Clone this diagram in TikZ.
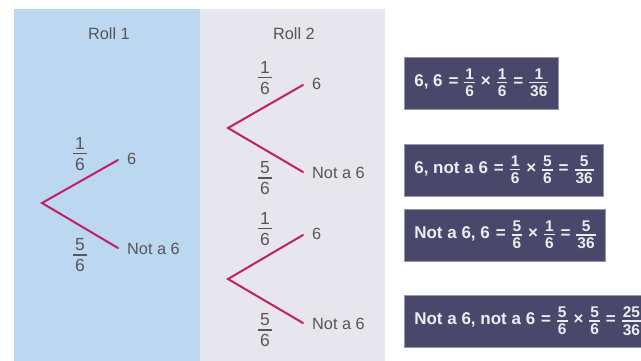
\documentclass[tikz,border=0pt]{standalone}
\usepackage{fontspec}
\setmainfont{Liberation Sans}
\definecolor{rollblue}{RGB}{188,216,240}
\definecolor{rollgrey}{RGB}{231,230,236}
\definecolor{branchc}{RGB}{192,32,102}
\definecolor{treetext}{RGB}{85,85,90}
\definecolor{boxfill}{RGB}{74,72,106}
\definecolor{boxline}{RGB}{150,150,170}
\definecolor{boxtext}{RGB}{236,236,242}
\newdimen\fgap \newdimen\frul \newdimen\fside
% stacked fraction with tight gaps, bar on the math axis
\newcommand{\fr}[2]{$\vcenter{\offinterlineskip\halign{\hfil\kern\fside##\kern\fside\hfil\cr
  #1\cr\noalign{\kern\fgap\hrule height\frul\kern\fgap}#2\cr}}$}
\newcommand{\tfr}[2]{{\fgap=3.6pt\frul=1.2pt\fside=2pt\fr{#1}{#2}}}
\newcommand{\bfr}[2]{{\fontsize{15.5}{17}\selectfont\fgap=2.6pt\frul=1.2pt\fside=1pt\fr{#1}{#2}}}
\newcommand{\op}[1]{\hspace{1.2pt}#1\hspace{1.2pt}}
\tikzset{
  lab/.style={text=treetext, inner sep=0pt, font=\fontsize{16.3}{18}\selectfont},
  fracl/.style={text=treetext, inner sep=0pt, font=\fontsize{17.5}{19}\selectfont},
  branch/.style={draw=branchc, line width=2pt, line cap=round, line join=miter},
  resbox/.style={fill=boxfill, draw=boxline, line width=0.6pt, text=boxtext,
    anchor=west, inner xsep=10pt, inner ysep=0pt, minimum height=52pt,
    font=\bfseries\fontsize{17}{19}\selectfont}
}
\begin{document}
\begin{tikzpicture}[x=1pt,y=-1pt]
\useasboundingbox (0,0) rectangle (641,361);
\clip (0,0) rectangle (641,361);
\fill[white] (0,0) rectangle (641,361);
\fill[rollblue] (14,9) rectangle (200,361);
\fill[rollgrey] (200,9) rectangle (385,361);

\node[lab] (roll1) at (109,34) {Roll 1};
\node[lab] (roll2) at (294,34) {Roll 2};

% Roll 1 tree
\coordinate (a) at (42,203);
\coordinate (a6) at (118,160);
\coordinate (an) at (118,248);
\draw[branch] (a6) -- (a) -- (an);
\node[lab, anchor=west] (l6) at (127,159) {6};
\node[lab, anchor=west] (ln) at (127,249) {Not a 6};
\node[fracl] (fa1) at (80,154) {\tfr{1}{6}};
\node[fracl] (fa2) at (80,255) {\tfr{5}{6}};

% Roll 2 upper tree
\coordinate (b) at (228,128);
\coordinate (b6) at (303,85);
\coordinate (bn) at (303,172);
\draw[branch] (b6) -- (b) -- (bn);
\node[lab, anchor=west] (m6) at (312,84) {6};
\node[lab, anchor=west] (mn) at (312,173) {Not a 6};
\node[fracl] (fb1) at (265,78) {\tfr{1}{6}};
\node[fracl] (fb2) at (265,178) {\tfr{5}{6}};

% Roll 2 lower tree
\coordinate (c) at (228,279);
\coordinate (c6) at (303,235);
\coordinate (cn) at (303,323);
\draw[branch] (c6) -- (c) -- (cn);
\node[lab, anchor=west] (n6) at (312,234) {6};
\node[lab, anchor=west] (nn) at (312,324) {Not a 6};
\node[fracl] (fc1) at (265,229) {\tfr{1}{6}};
\node[fracl] (fc2) at (265,330) {\tfr{5}{6}};

% Result boxes
\node[resbox] (r1) at (404,83) {6, 6 \op{=} \bfr{1}{6} \op{×} \bfr{1}{6} \op{=} \bfr{1}{36}};
\node[resbox] (r2) at (404,170) {6, not a 6 \op{=} \bfr{1}{6} \op{×} \bfr{5}{6} \op{=} \bfr{5}{36}};
\node[resbox] (r3) at (404,235) {Not a 6, 6 \op{=} \bfr{5}{6} \op{×} \bfr{1}{6} \op{=} \bfr{5}{36}};
\node[resbox] (r4) at (404,321) {Not a 6, not a 6 \op{=} \bfr{5}{6} \op{×} \bfr{5}{6} \op{=} \bfr{25}{36}};
\end{tikzpicture}
\end{document}
